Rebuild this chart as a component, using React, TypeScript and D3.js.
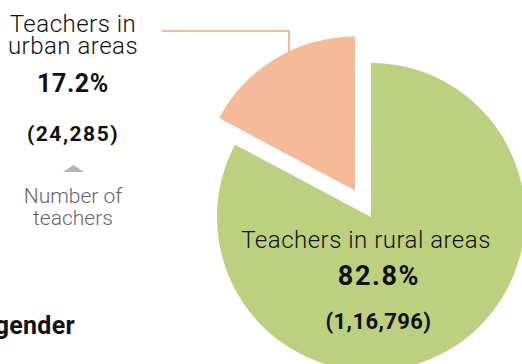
import React, { useEffect, useRef } from 'react';
import * as d3 from 'd3';

// Slices of the pie (number of teachers)
const categories = ['Teachers in rural areas', 'Teachers in urban areas'];
const teacherCounts = [116796, 24285];
const countLabels = ['(1,16,796)', '(24,285)'];
const percentLabels = ['82.8%', '17.2%'];
const sliceColors = ['#bcd17f', '#f5ba97'];

const App: React.FC = () => {
    const svgRef = useRef<SVGSVGElement>(null);
    const width = 522;
    const height = 364;

    useEffect(() => {
        if (!svgRef.current) return;
        const svg = d3.select(svgRef.current);
        svg.selectAll('*').remove();

        const font = 'Roboto, "Noto Sans", sans-serif';
        const cx = 371;
        const cy = 217;
        const radius = 154;
        const explode = 31;

        const data = categories.map((c, i) => ({ category: c, value: teacherCounts[i], color: sliceColors[i] }));

        const pie = d3.pie<typeof data[number]>()
            .sort(null)
            .value(d => d.value)
            .startAngle(0)
            .endAngle(Math.PI * 2);

        const arc = d3.arc<d3.PieArcDatum<typeof data[number]>>()
            .innerRadius(0)
            .outerRadius(radius);

        const arcs = pie(data);

        const g = svg.append('g').attr('transform', `translate(${cx},${cy})`);

        // urban slice is pulled out of the pie
        g.selectAll('path.slice')
            .data(arcs)
            .enter()
            .append('path')
            .attr('class', 'slice')
            .attr('d', d => arc(d) as string)
            .attr('fill', d => d.data.color)
            .attr('transform', (d, i) => {
                if (i === 0) return null;
                const mid = (d.startAngle + d.endAngle) / 2;
                return `translate(${Math.sin(mid) * explode},${-Math.cos(mid) * explode})`;
            });

        // leader line for the urban label
        svg.append('path')
            .attr('d', 'M162,31 H289 V53')
            .attr('fill', 'none')
            .attr('stroke', sliceColors[1])
            .attr('stroke-width', 2);

        const label = (x: number, y: number, txt: string, size: number, weight: number, ls = 0, fill = '#111', anchor = 'middle') =>
            svg.append('text')
                .attr('x', x).attr('y', y)
                .attr('text-anchor', anchor)
                .attr('font-family', font)
                .attr('font-weight', weight)
                .attr('font-size', size)
                .attr('letter-spacing', ls)
                .attr('fill', fill)
                .text(txt);

        // urban label block
        const ux = 73;
        label(ux, 32, 'Teachers in', 24, 300, 0.5);
        label(ux, 54, 'urban areas', 24, 300, 0.5);
        label(ux, 92, percentLabels[1], 25, 700, 0.6);
        label(ux, 141, countLabels[1], 21, 700, 1.5);

        // small marker pointing at the count
        svg.append('path')
            .attr('d', 'M63,172 L73.5,165 L84,172 Z')
            .attr('fill', '#b3b3b5');
        label(ux, 203, 'Number of', 21, 300, 0, '#666');
        label(ux, 225, 'teachers', 21, 300, 0, '#666');

        // rural label inside the green slice
        label(366, 248, categories[0], 24, 300, 0.5);
        label(379, 284.5, percentLabels[0], 27, 700, 1.6);
        label(378.5, 329, countLabels[0], 22, 700, 0.4);

        // cut-off heading from the next section
        label(75, 334, 'gender', 25, 700, 0.3, '#111', 'end');
    }, []);

    return (
        <svg
            ref={svgRef}
            width={width}
            height={height}
            viewBox={`0 0 ${width} ${height}`}
            style={{ position: 'absolute', left: 0, top: 0, background: '#fff' }}
        />
    );
};

export default App;
